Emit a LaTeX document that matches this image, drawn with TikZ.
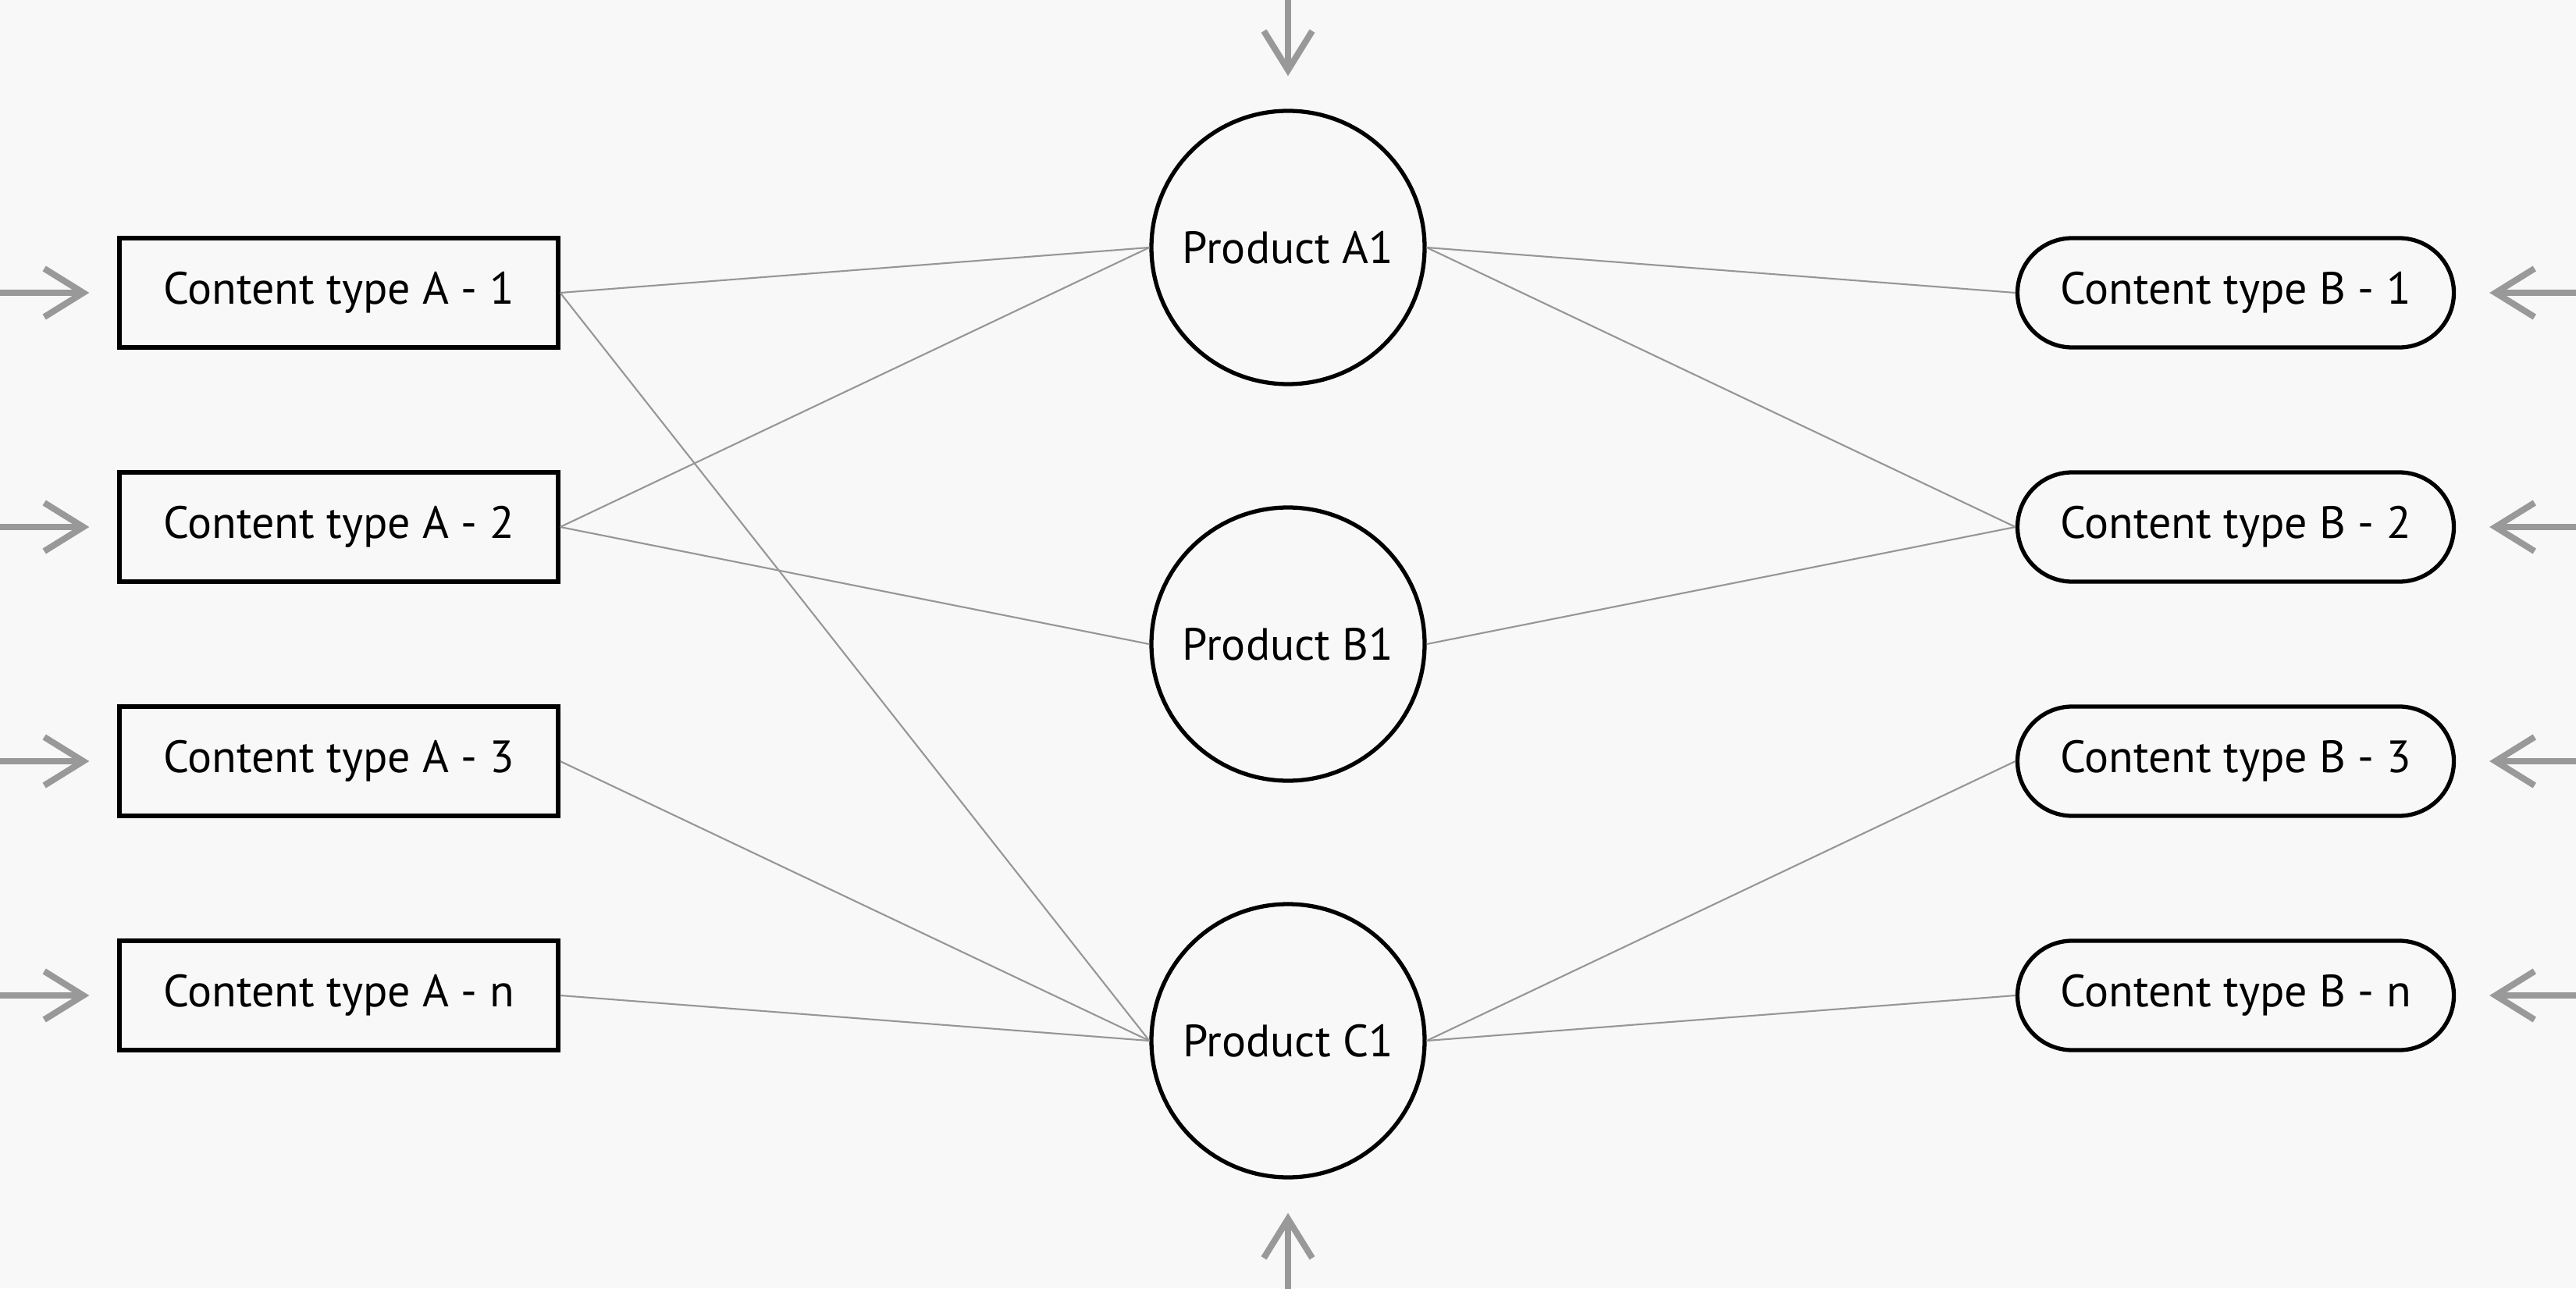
\documentclass[tikz,border=0pt]{standalone}
\usepackage{fontspec}
\setmainfont{PT Sans}
\usetikzlibrary{arrows.meta,positioning,shapes.misc}
\definecolor{bg}{RGB}{248,248,248}
\definecolor{wire}{RGB}{150,150,150}
\definecolor{feedgray}{RGB}{153,153,153}

\begin{document}
\begin{tikzpicture}[font=\fontsize{16.5}{20}\selectfont,
  ctypea/.style={draw, line width=1.5pt, minimum width=5.62cm, minimum height=1.40cm, inner sep=0pt},
  ctypeb/.style={draw, rounded rectangle, line width=1.5pt, minimum width=5.59cm, minimum height=1.40cm, inner sep=0pt},
  prod/.style={draw, circle, line width=1.5pt, minimum size=3.5cm, inner sep=0pt},
  link/.style={wire, line width=0.6pt},
  feed/.style={feedgray, line width=2.3pt, -{Straight Barb[length=5mm,width=6.2mm]}}]
% canvas
\fill[bg] (0,0) rectangle (33,16.5);
\useasboundingbox (0,0) rectangle (33,16.5);

% products
\node[prod] (pa) at (16.5,13.33) {Product A1};
\node[prod] (pb) at (16.5,8.25) {Product B1};
\node[prod] (pc) at (16.5,3.17) {Product C1};

% content types, fed from both sides
\foreach \i/\lab/\y in {1/1/12.75, 2/2/9.75, 3/3/6.75, 4/n/3.75} {
  \node[ctypea] (a\i) at (4.34,\y) {Content type A - \lab};
  \node[ctypeb] (b\i) at (28.64,\y) {Content type B - \lab};
  \coordinate (ina\i) at (-0.1,\y);
  \coordinate (inb\i) at (33.1,\y);
  \draw[feed, shorten >=3.6mm] (ina\i) -- (a\i.west);
  \draw[feed, shorten >=4.3mm] (inb\i) -- (b\i.east);
}
\coordinate (intop) at (16.5,16.6);
\coordinate (inbot) at (16.5,-0.1);
\draw[feed, shorten >=4.2mm] (intop) -- (pa.north);
\draw[feed, shorten >=4.3mm] (inbot) -- (pc.south);

% links
\foreach \s/\t in {a1/pa, a1/pc, a2/pa, a2/pb, a3/pc, a4/pc}
  \draw[link] (\s.east) -- (\t.west);
\foreach \s/\t in {pa/b1, pa/b2, pb/b2, pc/b3, pc/b4}
  \draw[link] (\s.east) -- (\t.west);
\end{tikzpicture}
\end{document}
